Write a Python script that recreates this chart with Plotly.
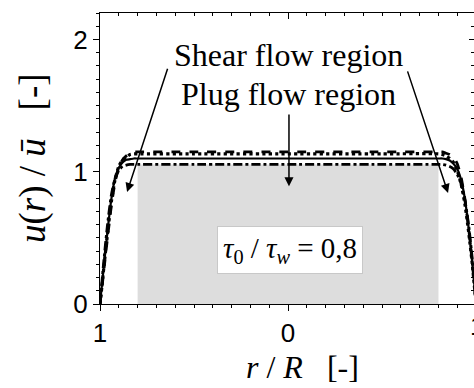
import plotly.graph_objects as go

# ---------------- data ----------------
r_vals = [-1.00, -0.99, -0.98, -0.96, -0.94, -0.92, -0.90, -0.88, -0.86, -0.84, -0.82, -0.80,
          -0.50, 0.00, 0.50,
          0.80, 0.82, 0.84, 0.86, 0.88, 0.90, 0.92, 0.94, 0.96, 0.98, 0.99, 1.00]

u_dashed = [0.00, 0.12, 0.25, 0.50, 0.74, 0.92, 1.03, 1.09, 1.12, 1.14, 1.15, 1.15,
            1.15, 1.15, 1.15,
            1.15, 1.15, 1.14, 1.13, 1.11, 1.06, 0.96, 0.80, 0.58, 0.31, 0.16, 0.00]
u_dotted = [0.00, 0.13, 0.27, 0.53, 0.77, 0.94, 1.04, 1.09, 1.11, 1.13, 1.135, 1.135,
            1.135, 1.135, 1.135,
            1.135, 1.13, 1.12, 1.10, 1.07, 1.01, 0.91, 0.76, 0.55, 0.30, 0.15, 0.00]
u_solid = [0.00, 0.14, 0.28, 0.55, 0.79, 0.95, 1.03, 1.07, 1.09, 1.095, 1.10, 1.10,
           1.10, 1.10, 1.10,
           1.10, 1.10, 1.095, 1.085, 1.06, 1.02, 0.94, 0.80, 0.58, 0.31, 0.16, 0.00]
u_dashdot = [0.00, 0.16, 0.32, 0.60, 0.82, 0.95, 1.01, 1.04, 1.05, 1.055, 1.055, 1.055,
             1.055, 1.055, 1.055,
             1.055, 1.055, 1.05, 1.04, 1.02, 0.98, 0.91, 0.79, 0.60, 0.34, 0.18, 0.00]

tau_ratio = 0.8          # tau0 / tau_w  -> plug radius r/R
plug_top = 1.055         # top of shaded plug region
x_ticks = [-1, 0, 1]
x_ticktext = ["1", "0", "1"]
y_ticks = [0, 1, 2]

x_range = [-1.0, 0.989]
y_range = [0.0, 2.2]

# ---------------- figure ----------------
fig = go.Figure()

fig.add_shape(type="rect", x0=-tau_ratio, x1=tau_ratio, y0=0, y1=plug_top,
              fillcolor="#dddddd", line=dict(width=0), layer="below")

series = [
    (u_dashed, "dash", 2.8),
    (u_dotted, "dot", 3.2),
    (u_solid, "solid", 2.2),
    (u_dashdot, "dashdot", 2.8),
]
for u, dash, w in series:
    fig.add_trace(go.Scatter(x=r_vals, y=u, mode="lines",
                             line=dict(color="black", width=w, dash=dash, shape="spline", smoothing=0.6),
                             showlegend=False, hoverinfo="skip"))

# dummy trace for top/right mirrored axes
fig.add_trace(go.Scatter(x=[None], y=[None], xaxis="x2", yaxis="y2", showlegend=False, hoverinfo="skip"))

tick_font = dict(family="Liberation Sans, Arial, sans-serif", size=26, color="black")
serif = "Liberation Serif, Times New Roman, serif"

fig.update_layout(
    width=474, height=388,
    margin=dict(l=100, r=0, t=13, b=84),
    paper_bgcolor="white", plot_bgcolor="white",
    xaxis=dict(range=x_range, tickmode="array", tickvals=x_ticks, ticktext=x_ticktext,
               ticks="outside", ticklen=6, tickwidth=1, tickcolor="black",
               showline=True, linecolor="black", linewidth=1, showgrid=False, zeroline=False,
               tickfont=tick_font,
               minor=dict(tickmode="linear", tick0=0, dtick=0.1, ticks="outside", ticklen=3,
                          tickcolor="black", showgrid=False)),
    yaxis=dict(range=y_range, tickmode="array", tickvals=y_ticks,
               ticks="outside", ticklen=6, tickwidth=1, tickcolor="black",
               showline=True, linecolor="black", linewidth=1, showgrid=False, zeroline=False,
               tickfont=tick_font,
               minor=dict(tickmode="linear", tick0=0, dtick=0.1, ticks="outside", ticklen=3,
                          tickcolor="black", showgrid=False)),
    xaxis2=dict(range=x_range, overlaying="x", side="top", anchor="y2",
                tickmode="array", tickvals=x_ticks, showticklabels=False,
                ticks="inside", ticklen=6, tickcolor="black",
                showline=True, linecolor="black", linewidth=1, showgrid=False, zeroline=False,
                minor=dict(tickmode="linear", tick0=0, dtick=0.1, ticks="inside", ticklen=3,
                           tickcolor="black", showgrid=False)),
    yaxis2=dict(range=y_range, overlaying="y", side="right", anchor="x2",
                tickmode="array", tickvals=y_ticks, showticklabels=False,
                ticks="inside", ticklen=5, tickcolor="black",
                showline=False, showgrid=False, zeroline=False,
                minor=dict(tickmode="linear", tick0=0, dtick=0.1, ticks="inside", ticklen=3,
                           tickcolor="black", showgrid=False)),
)

ann = []
# axis titles
ann.append(dict(text="<i>u</i>(<i>r</i>) / <i>ū</i>   [-]", textangle=-90,
                xref="paper", yref="paper", x=-67/374, y=(304-158)/291,
                xanchor="center", yanchor="middle", showarrow=False,
                font=dict(family=serif, size=37, color="black")))
ann.append(dict(text="<i>r</i> / <i>R</i>   [-]",
                xref="paper", yref="paper", x=(302-100)/374, y=-(367-304)/291,
                xanchor="center", yanchor="middle", showarrow=False,
                font=dict(family=serif, size=32, color="black")))
# partially visible right-hand tick label (cut by the picture edge)
ann.append(dict(text="1", xref="paper", yref="paper", x=(477-100)/374, y=-(326-304)/291,
                xanchor="center", yanchor="middle", showarrow=False, font=tick_font))
# region labels
ann.append(dict(text="Shear flow region", xref="x", yref="y", x=0.005, y=(304-55)/132.3,
                showarrow=False, xanchor="center", yanchor="middle",
                font=dict(family=serif, size=32, color="black")))
ann.append(dict(text="Plug flow region", xref="x", yref="y", x=0.005, y=(304-94)/132.3,
                showarrow=False, xanchor="center", yanchor="middle",
                font=dict(family=serif, size=32, color="black")))
# arrows
for (tx, ty, sx, sy) in [(-0.856, 0.847, -0.638, 1.79),
                          (0.851, 0.84, 0.633, 1.77),
                          (0.005, 0.89, 0.005, 1.444)]:
    ann.append(dict(x=tx, y=ty, ax=sx, ay=sy, xref="x", yref="y", axref="x", ayref="y",
                    text="", showarrow=True, arrowhead=2, arrowsize=1.2, arrowwidth=1.5,
                    arrowcolor="black"))
# tau box
ann.append(dict(text="<i>τ</i><sub>0</sub> / <i>τ</i><sub><i>w</i></sub> = 0,8",
                xref="x", yref="y", x=0.011, y=0.408, showarrow=False,
                xanchor="center", yanchor="middle",
                bgcolor="white", bordercolor="#c8c8c8", borderwidth=1, borderpad=5,
                font=dict(family=serif, size=29, color="black")))

fig.update_layout(annotations=ann)
fig.write_html("out.html")
